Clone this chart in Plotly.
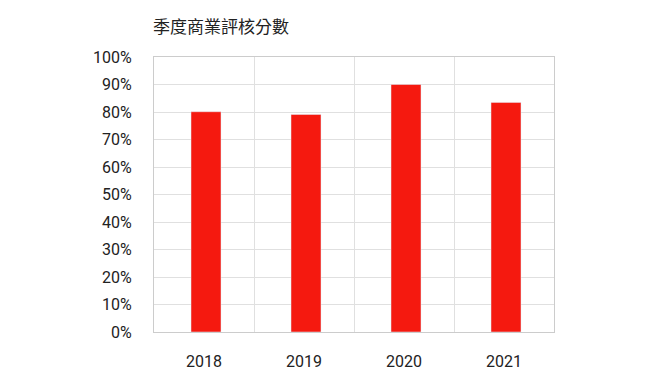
import plotly.graph_objects as go

years = ["2018", "2019", "2020", "2021"]
scores = [0.801, 0.791, 0.900, 0.835]
y_ticks = [i / 10 for i in range(11)]
y_labels = [f"{i*10}%" for i in range(11)]
title_text = "季度商業評核分數"

fig = go.Figure(go.Bar(x=years, y=scores, marker_color="#F5190F", width=0.3, offset=-0.13))

fig.update_layout(
    width=653, height=383,
    margin=dict(l=154, r=99, t=57, b=49),
    paper_bgcolor="white", plot_bgcolor="white",
    font=dict(family="Roboto, 'Noto Sans CJK TC', sans-serif", size=16, color="#222"),
    title=dict(text=title_text, x=153/653, xanchor="left", y=1-27/383, yanchor="middle",
               font=dict(size=17, color="#222", family="'Noto Sans CJK TC', Roboto, sans-serif")),
    showlegend=False,
    bargap=0.7,
)
fig.update_xaxes(type="category", tickson="boundaries", showgrid=True, gridcolor="#e0e0e0",
                 showline=True, linecolor="#cccccc", mirror=True, ticks="", ticklabelstandoff=15)
fig.update_yaxes(range=[0, 1], tickvals=y_ticks, ticktext=y_labels, showgrid=True,
                 gridcolor="#e0e0e0", showline=True, linecolor="#cccccc", mirror=True,
                 zeroline=False, ticks="", ticklabelstandoff=18)

fig.write_html("out.html", config={"displayModeBar": False},
               post_script="document.body.style.margin='0';")
